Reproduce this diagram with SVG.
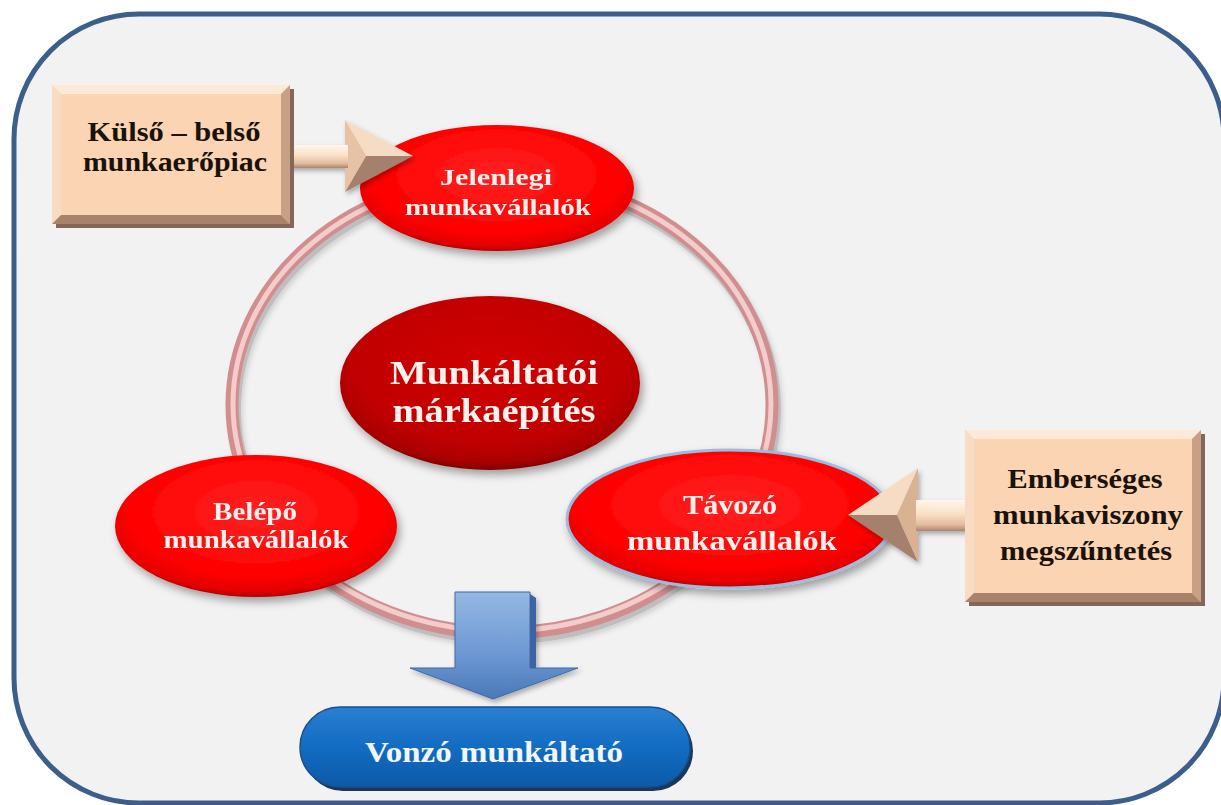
<svg xmlns="http://www.w3.org/2000/svg" width="1221" height="805" viewBox="0 0 1221 805">
  <defs>
    <style>
      .serif { font-family: "Liberation Serif", "Times New Roman", serif; font-weight: bold; text-anchor: middle; }
      .light { fill: #fdf1ee; }
      .dark { fill: #1a1208; }
      .face { fill: #fbd4b4; }
      .bev-top { fill: #fde9d8; }
      .bev-left { fill: #f8dbc2; }
      .bev-right { fill: #c9a086; }
      .bev-bottom { fill: #a9826c; }
      .box-shadow { fill: #85665a; }
    </style>
    <filter id="drop" x="-20%" y="-20%" width="140%" height="150%">
      <feDropShadow dx="3" dy="5" stdDeviation="4" flood-color="#000" flood-opacity="0.35"/>
    </filter>
    <filter id="soft" x="-20%" y="-20%" width="140%" height="140%">
      <feDropShadow dx="2" dy="3" stdDeviation="2.5" flood-color="#000" flood-opacity="0.3"/>
    </filter>
    <radialGradient id="redGrad" cx="50%" cy="40%" r="60%">
      <stop offset="0" stop-color="#ff2222"/>
      <stop offset="0.75" stop-color="#ff0000"/>
      <stop offset="0.93" stop-color="#e40000"/>
      <stop offset="1" stop-color="#b30000"/>
    </radialGradient>
    <radialGradient id="coreGrad" cx="50%" cy="40%" r="60%">
      <stop offset="0" stop-color="#d20606"/>
      <stop offset="0.75" stop-color="#c00000"/>
      <stop offset="0.93" stop-color="#a80000"/>
      <stop offset="1" stop-color="#800000"/>
    </radialGradient>
    <linearGradient id="shaftH" x1="0" y1="0" x2="0" y2="1">
      <stop offset="0" stop-color="#fff6ec"/>
      <stop offset="0.45" stop-color="#fbe0c6"/>
      <stop offset="0.8" stop-color="#e2bb9d"/>
      <stop offset="1" stop-color="#a98470"/>
    </linearGradient>
    <linearGradient id="blueArrow" x1="0" y1="0" x2="0" y2="1">
      <stop offset="0" stop-color="#95b8e4"/>
      <stop offset="0.6" stop-color="#6b97d2"/>
      <stop offset="1" stop-color="#4a78b8"/>
    </linearGradient>
    <linearGradient id="pillGrad" x1="0" y1="0" x2="0" y2="1">
      <stop offset="0" stop-color="#2a7fd0"/>
      <stop offset="0.5" stop-color="#126cc2"/>
      <stop offset="1" stop-color="#0c5aa8"/>
    </linearGradient>
  </defs>

  <!-- outer frame -->
  <rect x="14" y="14" width="1210" height="789" rx="125" ry="125" fill="#f2f2f2" stroke="#3b5e8c" stroke-width="5"/>

  <!-- cycle ring -->
  <g id="ring">
    <ellipse cx="504" cy="409" rx="270" ry="228" fill="none" stroke="#9a9a9a" stroke-opacity="0.45" stroke-width="14" filter="url(#soft)"/>
    <ellipse cx="502" cy="405" rx="270" ry="228" fill="none" stroke="#d18e8e" stroke-width="13"/>
    <ellipse cx="502" cy="404" rx="269" ry="227" fill="none" stroke="#f3cccc" stroke-width="5"/>
  </g>

  <!-- center node -->
  <g id="node-core" filter="url(#drop)">
    <ellipse cx="490" cy="383" rx="150" ry="87" fill="url(#coreGrad)"/>
    <text class="serif light" x="494" y="384" font-size="34" textLength="208" lengthAdjust="spacingAndGlyphs">Munkáltatói</text>
    <text class="serif light" x="494" y="422" font-size="34" textLength="203" lengthAdjust="spacingAndGlyphs">márkaépítés</text>
  </g>

  <!-- current employees -->
  <g id="node-current" filter="url(#drop)">
    <ellipse cx="497" cy="188" rx="137" ry="63" fill="url(#redGrad)"/>
    <text class="serif light" x="496" y="185" font-size="24" textLength="112" lengthAdjust="spacingAndGlyphs">Jelenlegi</text>
    <text class="serif light" x="498" y="215" font-size="24" textLength="186" lengthAdjust="spacingAndGlyphs">munkavállalók</text>
  </g>

  <!-- joining employees -->
  <g id="node-joining" filter="url(#drop)">
    <ellipse cx="256" cy="526" rx="141" ry="71" fill="url(#redGrad)"/>
    <text class="serif light" x="255" y="520" font-size="25" textLength="84" lengthAdjust="spacingAndGlyphs">Belépő</text>
    <text class="serif light" x="256" y="548" font-size="25" textLength="185" lengthAdjust="spacingAndGlyphs">munkavállalók</text>
  </g>

  <!-- leaving employees -->
  <g id="node-leaving" filter="url(#drop)">
    <ellipse cx="730" cy="519" rx="163" ry="69" fill="url(#redGrad)" stroke="#9dbbdc" stroke-width="3"/>
    <text class="serif light" x="730" y="514" font-size="28" textLength="94" lengthAdjust="spacingAndGlyphs">Távozó</text>
    <text class="serif light" x="732" y="550" font-size="28" textLength="210" lengthAdjust="spacingAndGlyphs">munkavállalók</text>
  </g>

  <!-- connectors -->
  <g id="connectors">
    <!-- labour market to current employees -->
    <g filter="url(#soft)">
      <polygon points="345,120 413,156 366,156" fill="#f6dcc5"/>
      <polygon points="345,192 413,156 366,156" fill="#a5806c"/>
      <polygon points="345,120 366,156 345,192" fill="#e6c2a6"/>
      <rect x="278" y="145" width="70" height="23" fill="url(#shaftH)"/>
    </g>
    <!-- humane termination to leaving employees -->
    <g filter="url(#soft)">
      <polygon points="918,468 848,515 897,515" fill="#f6dcc5"/>
      <polygon points="918,562 848,515 897,515" fill="#a5806c"/>
      <polygon points="918,468 897,515 918,562" fill="#d9b294"/>
      <rect x="916" y="500" width="52" height="31" fill="url(#shaftH)"/>
    </g>
    <!-- cycle to attractive employer -->
    <g filter="url(#soft)">
      <polygon points="455,592 530,592 530,668 578,668 493,699 410,668 455,668" fill="url(#blueArrow)" stroke="#3f6aa6" stroke-width="1"/>
      <polygon points="530,594 536,598 536,668 530,668" fill="#3d64a0"/>
    </g>
  </g>

  <!-- labour market box -->
  <g id="node-market">
    <rect class="box-shadow" x="56" y="89" width="238" height="139"/>
    <rect class="face" x="52" y="85" width="238" height="139"/>
    <polygon class="bev-top" points="52,85 290,85 281,94 61,94"/>
    <polygon class="bev-left" points="52,85 61,94 61,215 52,224"/>
    <polygon class="bev-right" points="290,85 290,224 281,215 281,94"/>
    <polygon class="bev-bottom" points="52,224 290,224 281,215 61,215"/>
    <text class="serif dark" x="174" y="141" font-size="27" textLength="173" lengthAdjust="spacingAndGlyphs">Külső – belső</text>
    <text class="serif dark" x="175" y="171" font-size="27" textLength="184" lengthAdjust="spacingAndGlyphs">munkaerőpiac</text>
  </g>

  <!-- humane termination box -->
  <g id="node-termination">
    <rect class="box-shadow" x="969" y="434" width="236" height="172"/>
    <rect class="face" x="965" y="430" width="236" height="172"/>
    <polygon class="bev-top" points="965,430 1201,430 1192,439 974,439"/>
    <polygon class="bev-left" points="965,430 974,439 974,593 965,602"/>
    <polygon class="bev-right" points="1201,430 1201,602 1192,593 1192,439"/>
    <polygon class="bev-bottom" points="965,602 1201,602 1192,593 974,593"/>
    <text class="serif dark" x="1085" y="488" font-size="28" textLength="155" lengthAdjust="spacingAndGlyphs">Emberséges</text>
    <text class="serif dark" x="1088" y="524" font-size="28" textLength="190" lengthAdjust="spacingAndGlyphs">munkaviszony</text>
    <text class="serif dark" x="1086" y="560" font-size="28" textLength="172" lengthAdjust="spacingAndGlyphs">megszűntetés</text>
  </g>

  <!-- attractive employer -->
  <g id="node-employer">
    <rect x="303" y="711" width="390" height="80" rx="40" fill="#17375e"/>
    <rect x="300" y="707" width="390" height="80" rx="40" fill="url(#pillGrad)" stroke="#1b4f8a" stroke-width="1.5"/>
    <text class="serif" x="494" y="762" font-size="30" fill="#f2f6ff" textLength="258" lengthAdjust="spacingAndGlyphs">Vonzó munkáltató</text>
  </g>
</svg>
